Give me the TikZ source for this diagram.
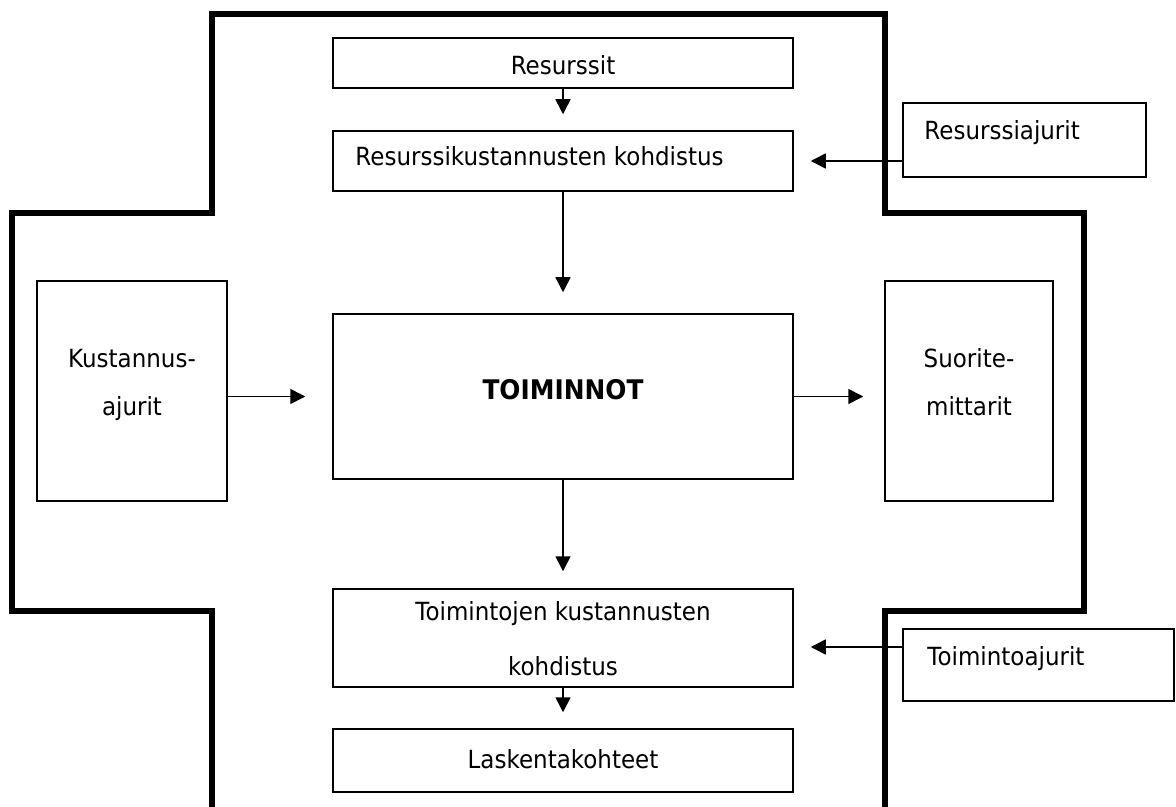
\documentclass[tikz,border=0pt]{standalone}
\usepackage{fontspec}
\setmainfont{DejaVu Sans}[FakeStretch=0.92]
\usetikzlibrary{arrows.meta}
\tikzset{
  box/.style={draw, line width=0.75pt, inner sep=0pt, fill=none},
  txt/.style={inner sep=0pt, font=\fontsize{12.5}{15}\selectfont},
  arr/.style={-{Triangle[length=7.5pt,width=7.5pt]}, line width=0.8pt},
  wall/.style={line width=2.6pt, line join=miter, line cap=butt}
}
\begin{document}
\begin{tikzpicture}[x=0.5pt,y=-0.5pt]
\useasboundingbox (0,0) rectangle (1176,807);
\fill[white] (0,0) rectangle (1176,807);
% outer thick outline
\draw[wall] (212,807) -- (212,611) -- (12,611) -- (12,213) -- (212,213) -- (212,14)
  -- (885,14) -- (885,213) -- (1084,213) -- (1084,611) -- (885,611) -- (885,807);
% boxes
\node[box, minimum width=230pt, minimum height=25pt] (res) at (563,63) {};
\node[box, minimum width=230pt, minimum height=30pt] (rk) at (563,161) {};
\node[box, minimum width=121.5pt, minimum height=37pt] (ra) at (1024.5,140) {};
\node[box, minimum width=95pt, minimum height=110pt] (ka) at (132,391) {};
\node[box, minimum width=230pt, minimum height=82.5pt] (toim) at (563,396.5) {};
\node[box, minimum width=84pt, minimum height=110pt] (sm) at (969,391) {};
\node[box, minimum width=230pt, minimum height=49pt] (tk) at (563,638) {};
\node[box, minimum width=230pt, minimum height=31.5pt] (lk) at (563,760.5) {};
\node[box, minimum width=135.5pt, minimum height=36pt] (ta) at (1038.5,665) {};
% texts
\node[txt, anchor=base] (res-t) at (563,75) {Resurssit};
\node[txt, anchor=base west] (rk-t) at (355,166) {Resurssikustannusten kohdistus};
\node[txt, anchor=base west] (ra-t) at (924,140) {Resurssiajurit};
\node[txt, anchor=base] (ka-t1) at (132,367) {Kustannus-};
\node[txt, anchor=base] (ka-t2) at (132,415) {ajurit};
\node[txt, anchor=base, font=\fontsize{13.5}{16}\selectfont\bfseries] (toim-t) at (563,399) {TOIMINNOT};
\node[txt, anchor=base] (sm-t1) at (969,367) {Suorite-};
\node[txt, anchor=base] (sm-t2) at (969,415) {mittarit};
\node[txt, anchor=base] (tk-t1) at (563,620) {Toimintojen kustannusten};
\node[txt, anchor=base] (tk-t2) at (563,675) {kohdistus};
\node[txt, anchor=base] (lk-t) at (563,768) {Laskentakohteet};
\node[txt, anchor=base west] (ta-t) at (927,665) {Toimintoajurit};
% connectors
\draw[arr, shorten >=8pt] (res) -- (rk);
\draw[arr, shorten >=10.5pt] (rk) -- (toim);
\draw[arr, shorten >=8.5pt] (toim) -- (tk);
\draw[arr, shorten >=8pt] (tk) -- (lk);
\draw[arr, shorten >=13.5pt] (toim.west -| ka.east) -- (toim.west);
\draw[arr, shorten >=10.5pt] (toim.east) -- (toim.east -| sm.west);
\draw[arr, shorten >=8.5pt] (ra.west |- rk.east) -- (rk.east);
\draw[arr, shorten >=8.5pt] ([yshift=-4.5pt]tk.east -| ta.west) -- ([yshift=-4.5pt]tk.east);
\end{tikzpicture}
\end{document}
